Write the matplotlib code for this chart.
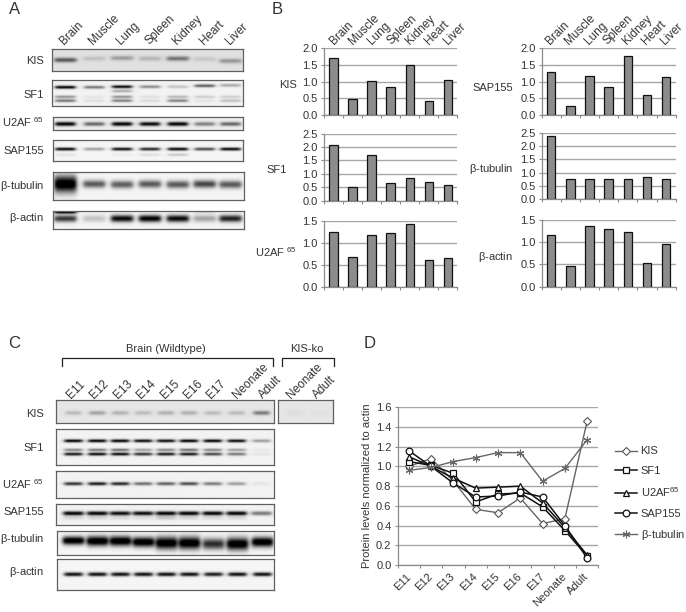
import numpy as np
import matplotlib
matplotlib.use("Agg")
import matplotlib.pyplot as plt

plt.rcParams['font.family'] = ['Liberation Sans', 'DejaVu Sans']
plt.rcParams['mathtext.fontset'] = 'stix'
plt.rcParams['mathtext.default'] = 'regular'

W, H = 686, 612
TEXT = '#333333'
GRID = '#a6a6a6'
AXIS = '#8c8c8c'

tissues = ["Brain", "Muscle", "Lung", "Spleen", "Kidney", "Heart", "Liver"]
stages = ["E11", "E12", "E13", "E14", "E15", "E16", "E17", "Neonate", "Adult"]
U2AF_LABEL = "U2AF $^{65}$"
TUB_LABEL = r"$\beta$-tubulin"
ACT_LABEL = r"$\beta$-actin"

# panel B bars
kis_tissue = [1.70, 0.48, 1.02, 0.85, 1.51, 0.41, 1.05]
sf1_tissue = [2.07, 0.50, 1.70, 0.66, 0.85, 0.69, 0.60]
u2af_tissue = [1.24, 0.68, 1.18, 1.22, 1.43, 0.61, 0.65]
sap155_tissue = [1.29, 0.26, 1.18, 0.83, 1.78, 0.61, 1.13]
tubulin_tissue = [2.36, 0.76, 0.78, 0.76, 0.78, 0.85, 0.76]
actin_tissue = [1.17, 0.47, 1.36, 1.30, 1.23, 0.54, 0.95]

# panel D lines
kis_dev = [1.00, 1.08, 0.85, 0.565, 0.53, 0.68, 0.42, 0.47, 1.46]
sf1_dev = [1.05, 1.01, 0.93, 0.64, 0.72, 0.73, 0.59, 0.35, 0.09]
u2af_dev = [1.10, 1.00, 0.88, 0.78, 0.79, 0.80, 0.63, 0.38, 0.10]
sap155_dev = [1.16, 1.00, 0.83, 0.69, 0.70, 0.74, 0.69, 0.40, 0.07]
tubulin_dev = [0.96, 0.99, 1.05, 1.09, 1.14, 1.14, 0.85, 0.98, 1.27]

# blot bands: (band y, sigma, band strength per lane)
lanesA = [65, 94, 122, 150, 178, 205, 231]
lanesC = [73, 97, 120, 143, 166, 189, 213, 237, 262]
lanesKO = [295, 320]

blotA_kis = [([60, 58.5, 58, 58.5, 58.5, 59, 61], 1.7, [.55, .13, .28, .18, .45, .1, .3])]
blotA_sf1 = [([87, 87, 86.5, 86.5, 86.5, 85.5, 85], 1.1, [1, .5, .95, .42, .2, .6, .3]),
             (91, 1.0, [0, 0, .3, 0, 0, 0, 0]),
             (97, 1.0, [.4, .06, .4, .08, .25, .15, .15]),
             (101, 1.1, [.5, .08, .45, .1, .45, .06, .2])]
blotA_u2af = [(124, 1.5, [1, .55, 1, .95, 1, .45, .55])]
blotA_sap = [(149, 1.1, [1, .35, .95, .85, 1, .7, 1]),
             (155, 1.0, [.08, 0, .04, .1, .18, 0, 0])]
blotA_tub = [([184, 184, 184.5, 184, 184.5, 184, 184.5], [6, 2.8, 2.8, 2.8, 2.8, 2.8, 2.8],
              [1.1, .62, .6, .62, .62, .7, .62])]
blotA_act = [(218.5, 2.6, [.75, .2, .95, 1, .95, .32, .85]),
             (212, 1.0, [.9, 0, 0, 0, 0, .1, 0])]

blotC_kis = [(413, 1.5, [.18, .28, .22, .18, .22, .22, .18, .18, .45])]
blotC_sf1 = [(440.7, 1.1, [1, 1, 1, .95, .95, 1, 1, .95, .35]),
             (450, 1.0, [.45, .5, .55, .35, .45, .55, .45, .35, .05]),
             (454.3, 1.1, [.9, .95, .95, .8, .9, .9, .7, .5, .06])]
blotC_u2af = [(483.7, 1.2, [.8, .9, .85, .55, .6, .7, .5, .35, .06])]
blotC_sap = [(513.3, 1.5, [1, 1, .95, .95, 1, 1, 1, 1, .5]),
             (518, 1.5, [.12, .12, .1, .08, .18, .12, .1, .1, 0])]
blotC_tub = [([540.5, 541, 541, 542, 543, 543, 544, 544, 542],
              [3, 3.6, 3.6, 3.6, 4.5, 4.5, 4, 4.5, 3.6],
              [1.1, 1.1, 1.1, 1.1, 1.1, 1.1, .8, 1.1, 1.1])]
blotC_act = [(574.3, 1.4, [.95, .95, .95, .95, .95, .95, .9, .95, .95])]
blotKO_kis = [(413, 2.5, [.03, .02])]


def draw_blot(rect, lanes, bands, halfw, bg=0.94):
    x0, y0, x1, y1 = rect
    ax = fig.add_axes([x0 / W, 1 - y1 / H, (x1 - x0) / W, (y1 - y0) / H])
    xs = np.arange(x0, x1 + 1.0)
    ys = np.arange(y0, y1 + 1.0)
    img = np.full((len(ys), len(xs)), bg)
    for band_y, sigma, strength in bands:
        band_y = np.broadcast_to(band_y, (len(lanes),))
        sigma = np.broadcast_to(sigma, (len(lanes),))
        for i in range(len(lanes)):
            across = 0.5 * (np.tanh((xs - lanes[i] + halfw) / 2.5) - np.tanh((xs - lanes[i] - halfw) / 2.5))
            down = np.exp(-((ys - band_y[i]) / sigma[i]) ** 2 / 2)
            img -= strength[i] * np.outer(down, across)
    ax.imshow(np.clip(img, 0, 1), cmap='gray', vmin=0, vmax=1, aspect='auto',
              extent=[x0, x1, y1, y0], interpolation='bilinear')
    ax.set_xticks([])
    ax.set_yticks([])
    for s in ax.spines.values():
        s.set_color('#606060')
        s.set_linewidth(0.9)
    return ax


def draw_bars(rect, values, ymax, step, name, name_x, name_y):
    x0, y0, x1, y1 = rect
    ax = fig.add_axes([x0 / W, 1 - y1 / H, (x1 - x0) / W, (y1 - y0) / H])
    ax.bar(np.arange(7) + 0.5, values, width=0.44, color='#8c8c8c', edgecolor='#111111', linewidth=0.9, zorder=3)
    ax.set_xlim(0, 7)
    ax.set_ylim(0, ymax)
    ax.set_xticks(np.arange(8))
    ax.set_xticklabels([])
    ax.set_yticks(np.arange(0, ymax + 0.01, step))
    ax.set_yticklabels(["%.1f" % v for v in np.arange(0, ymax + 0.01, step)], fontsize=8, color=TEXT)
    ax.grid(axis='y', color=GRID, linewidth=1.0, zorder=1)
    ax.set_axisbelow(True)
    ax.tick_params(length=2.5, width=0.8, color=AXIS, pad=2)
    for s in ['top', 'right']:
        ax.spines[s].set_visible(False)
    for s in ['left', 'bottom']:
        ax.spines[s].set_color(AXIS)
        ax.spines[s].set_linewidth(0.9)
    label(name_x, name_y, name, ha='right', size=8)
    return ax


def label(x, y, s, ha='right', size=8, rot=0, color=TEXT):
    page.text(x, y, s, ha=ha, va='center', fontsize=size, rotation=rot, rotation_mode='anchor', color=color)


fig = plt.figure(figsize=(W / 100, H / 100), dpi=100)
page = fig.add_axes([0, 0, 1, 1], zorder=5)
page.set_xlim(0, W)
page.set_ylim(H, 0)
page.axis('off')

# panel letters
for letter, x, y in [("A", 9, 10), ("B", 272, 9), ("C", 8, 344), ("D", 364, 344)]:
    label(x, y, letter, ha='left', size=12)

# panel A
draw_blot((52, 49, 243, 71), lanesA, blotA_kis, 11, bg=0.88)
draw_blot((52, 80, 243, 106), lanesA, blotA_sf1, 10, bg=0.95)
draw_blot((53, 117, 243, 130), lanesA, blotA_u2af, 10, bg=0.93)
draw_blot((53, 140, 243, 161), lanesA, blotA_sap, 10, bg=0.96)
draw_blot((53, 172, 244, 200), lanesA, blotA_tub, 11, bg=0.96)
draw_blot((53, 211, 244, 229), lanesA, blotA_act, 11, bg=0.96)
for name, y in zip(["KIS", "SF1", U2AF_LABEL, "SAP155", TUB_LABEL, ACT_LABEL], [61, 95, 122, 151, 186, 218]):
    label(44, y, name)
for i, name in enumerate(tissues):
    label(lanesA[i] - 3, 43, name, ha='left', size=8.5, rot=45)

# panel B
draw_bars((324, 48.3, 457.3, 115), kis_tissue, 2.0, 0.5, "KIS", 297, 85)
draw_bars((324, 133.7, 457.3, 200.7), sf1_tissue, 2.5, 0.5, "SF1", 287, 170)
draw_bars((324, 220.7, 457.3, 287.3), u2af_tissue, 1.5, 0.5, U2AF_LABEL, 297, 252)
draw_bars((541.7, 48.3, 675.7, 115), sap155_tissue, 2.0, 0.5, "SAP155", 513, 88)
draw_bars((541.7, 132.7, 675.7, 199.3), tubulin_tissue, 2.5, 0.5, TUB_LABEL, 513, 169)
draw_bars((541.7, 220, 675.7, 286.7), actin_tissue, 1.5, 0.5, ACT_LABEL, 513, 257)
for i, name in enumerate(tissues):
    label(332 + 19.05 * i, 43, name, ha='left', size=8.5, rot=45)
    label(548 + 19.2 * i, 43, name, ha='left', size=8.5, rot=45)

# panel C
draw_blot((56, 400, 274, 423), lanesC, blotC_kis, 8, bg=0.90)
draw_blot((278, 400, 333, 423), lanesKO, blotKO_kis, 8, bg=0.90)
draw_blot((56, 429, 274, 465), lanesC, blotC_sf1, 9, bg=0.95)
draw_blot((56, 471, 274, 498), lanesC, blotC_u2af, 9, bg=0.95)
draw_blot((56, 504, 274, 525), lanesC, blotC_sap, 10, bg=0.95)
draw_blot((57, 531, 274, 555), lanesC, blotC_tub, 10.5, bg=0.96)
draw_blot((57, 559, 274, 590), lanesC, blotC_act, 9, bg=0.96)
for name, y in zip(["KIS", "SF1", U2AF_LABEL, "SAP155", TUB_LABEL, ACT_LABEL], [414, 448, 484, 512, 539, 572]):
    label(44, y, name)
for name, x in zip(stages, [69, 92, 116, 139, 163, 186, 209, 235, 261]):
    label(x, 397, name, ha='left', size=8.5, rot=45)
for name, x in zip(stages[-2:], [289, 315]):
    label(x, 397, name, ha='left', size=8.5, rot=45)
page.plot([62, 62, 273, 273], [366, 358, 358, 366], color='#222222', lw=0.9)
page.plot([281.7, 281.7, 334, 334], [366, 358, 358, 366], color='#222222', lw=0.9)
label(166, 349, "Brain (Wildtype)", ha='center')
label(307, 349, "KIS-ko", ha='center')

# panel D
axD = fig.add_axes([397.7 / W, 1 - 565 / H, 200.6 / W, 157.7 / H])
x = np.arange(9) + 0.5
axD.plot(x, kis_dev, color='#666666', lw=1.0, marker='D', ms=4.2, mfc='white', mec='#555555', mew=0.8, label="KIS")
axD.plot(x, sf1_dev, color='#111111', lw=1.1, marker='s', ms=4.5, mfc='white', mec='#111111', mew=0.9, label="SF1")
axD.plot(x, u2af_dev, color='#111111', lw=1.1, marker='^', ms=4.5, mfc='white', mec='#111111', mew=0.9, label="U2AF$^{65}$")
axD.plot(x, sap155_dev, color='#111111', lw=1.1, marker='o', ms=4.8, mfc='white', mec='#111111', mew=0.9, label="SAP155")
axD.plot(x, tubulin_dev, color='#666666', lw=1.0, marker=(6, 2, 0), ms=5.5, mec='#666666', mew=0.8, label=TUB_LABEL)
axD.set_xlim(0, 9)
axD.set_ylim(0, 1.6)
axD.set_xticks(np.arange(10))
axD.set_xticklabels([])
axD.set_yticks(np.arange(0, 1.61, 0.2))
axD.set_yticklabels(["%.1f" % v for v in np.arange(0, 1.61, 0.2)], fontsize=8, color=TEXT)
axD.grid(axis='y', color=GRID, linewidth=1.0)
axD.set_axisbelow(True)
axD.tick_params(length=2.5, width=0.8, color=AXIS, pad=2)
for s in ['top', 'right']:
    axD.spines[s].set_visible(False)
for s in ['left', 'bottom']:
    axD.spines[s].set_color(AXIS)
    axD.spines[s].set_linewidth(0.9)
axD.set_ylabel("Protein levels normalized to actin", fontsize=8, color=TEXT, labelpad=3)
for i, name in enumerate(stages):
    label(409 + 22.25 * i, 575, name, ha='right', size=8, rot=45)
axD.legend(loc='upper left', bbox_to_anchor=(615 / W, 1 - 446.5 / H), bbox_transform=fig.transFigure,
           frameon=False, fontsize=8, handlelength=2.0, handletextpad=0.3, labelspacing=0.85,
           borderpad=0, borderaxespad=0, labelcolor=TEXT)

fig.savefig('out.png', dpi=100)
